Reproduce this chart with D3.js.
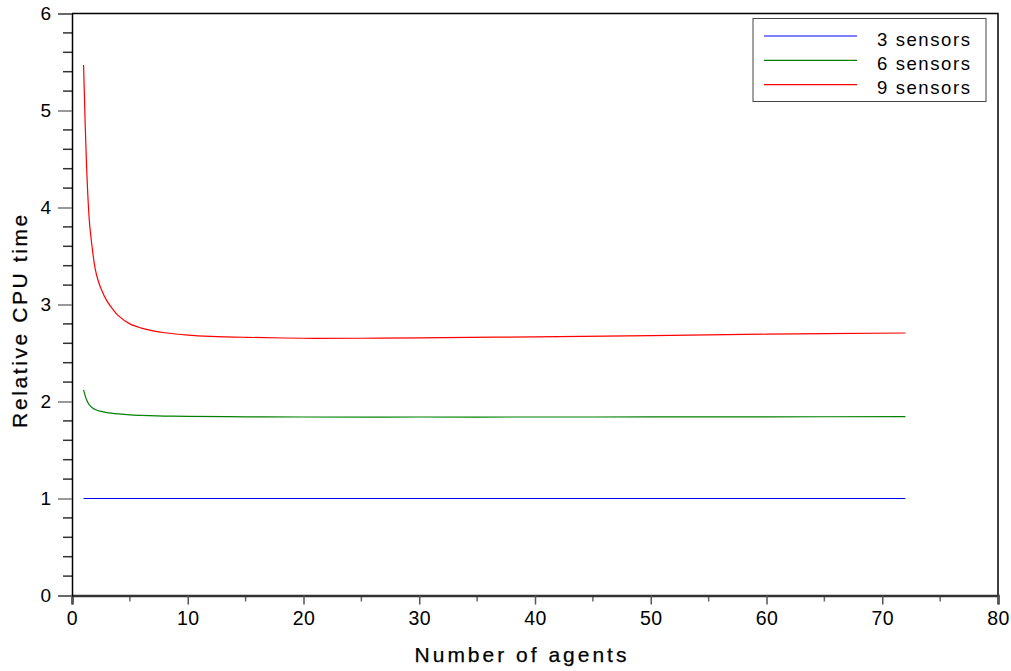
<!DOCTYPE html>
<html>
<head>
<meta charset="utf-8">
<script src="https://cdn.jsdelivr.net/npm/d3@7"></script>
<style>
  body { margin: 0; background: #fff; }
  text { font-family: "Liberation Sans", Arial, sans-serif; fill: #000; }
</style>
</head>
<body>
<div id="chart"></div>
<script>
// values
const agents3 = [1, 72];
const sensors3 = [1, 1];

const agents6 = [1, 1.25, 1.5, 1.75, 2, 2.5, 3, 4, 5, 6, 8, 10, 15, 20, 30, 40, 50, 60, 72];
const sensors6 = [2.12, 2.02, 1.965, 1.935, 1.918, 1.898, 1.886, 1.872, 1.862, 1.857, 1.85, 1.846, 1.842, 1.84, 1.84, 1.84, 1.841, 1.842, 1.844];

const agents9 = [1, 1.25, 1.5, 1.75, 2, 2.25, 2.5, 3, 3.5, 4, 5, 6, 7, 8, 10, 12, 15, 20, 25, 30, 40, 50, 60, 72];
const sensors9 = [5.47, 4.45, 3.86, 3.58, 3.37, 3.25, 3.165, 3.04, 2.955, 2.885, 2.8, 2.757, 2.729, 2.709, 2.685, 2.672, 2.662, 2.652, 2.652, 2.656, 2.667, 2.68, 2.694, 2.706];

const seriesNames = ['3 sensors', '6 sensors', '9 sensors'];
const seriesColors = ['#0000ff', '#008000', '#ff0000'];
const xTicks = [0, 10, 20, 30, 40, 50, 60, 70, 80];
const yTicks = [0, 1, 2, 3, 4, 5, 6];

const series = [
  agents3.map((a, i) => ({x: a, y: sensors3[i]})),
  agents6.map((a, i) => ({x: a, y: sensors6[i]})),
  agents9.map((a, i) => ({x: a, y: sensors9[i]}))
];

const width = 1011, height = 671;
const plotLeft = 72, plotRight = 998, plotTop = 13.5, plotBottom = 595.5;

const svg = d3.select('#chart').append('svg')
  .attr('width', width)
  .attr('height', height);

const x = d3.scaleLinear().domain([0, 80]).range([plotLeft, plotRight]);
const y = d3.scaleLinear().domain([0, 6]).range([plotBottom, plotTop]);

// frame (top + right)
svg.append('path')
  .attr('d', `M${plotLeft},${plotTop}H${plotRight}V${plotBottom}`)
  .attr('fill', 'none')
  .attr('stroke', '#000')
  .attr('stroke-width', 1.5);

// minor ticks
const xMinor = d3.range(5, 80, 10);
svg.append('g').selectAll('line')
  .data(xMinor)
  .enter().append('line')
  .attr('x1', d => x(d)).attr('x2', d => x(d))
  .attr('y1', plotBottom).attr('y2', plotBottom + 6)
  .attr('stroke', '#666').attr('stroke-width', 1.5);

const yMinor = d3.range(0, 6.01, 0.2).filter(v => Math.abs(v - Math.round(v)) > 0.01);
svg.append('g').selectAll('line')
  .data(yMinor)
  .enter().append('line')
  .attr('x1', plotLeft - 9).attr('x2', plotLeft)
  .attr('y1', d => y(d)).attr('y2', d => y(d))
  .attr('stroke', '#333').attr('stroke-width', 1.5);

// axes
const xAxis = d3.axisBottom(x).tickValues(xTicks).tickFormat(d3.format('d')).tickSize(9).tickPadding(7);
const gx = svg.append('g')
  .attr('transform', `translate(0,${plotBottom})`)
  .call(xAxis);
gx.select('.domain').attr('stroke', '#333').attr('stroke-width', 2.5);
gx.selectAll('.tick line').attr('stroke', '#555').attr('stroke-width', 1.5);
gx.selectAll('.tick text')
  .attr('font-size', 19.5)
  .style('letter-spacing', '0.5px')
  .attr('font-family', '"Liberation Sans", Arial, sans-serif');

const yAxis = d3.axisLeft(y).tickValues(yTicks).tickFormat(d3.format('d')).tickSize(14).tickPadding(7);
const gy = svg.append('g')
  .attr('transform', `translate(${plotLeft},0)`)
  .call(yAxis);
gy.select('.domain').attr('stroke', '#000').attr('stroke-width', 1.5);
gy.selectAll('.tick line').attr('stroke', '#777').attr('stroke-width', 1.5);
gy.selectAll('.tick text')
  .attr('font-size', 19)
  .attr('font-family', '"Liberation Sans", Arial, sans-serif');

// axis titles
svg.append('text')
  .attr('x', 522).attr('y', 662)
  .attr('text-anchor', 'middle')
  .attr('font-size', 21)
  .style('letter-spacing', '3px')
  .style('stroke', '#000').style('stroke-width', 0.25)
  .text('Number of agents');

svg.append('text')
  .attr('transform', 'translate(27,320) rotate(-90)')
  .attr('text-anchor', 'middle')
  .attr('font-size', 21)
  .style('letter-spacing', '2.6px')
  .style('stroke', '#000').style('stroke-width', 0.25)
  .text('Relative CPU time');

// lines
const line = d3.line()
  .x(d => x(d.x))
  .y(d => y(d.y))
  .curve(d3.curveCatmullRom.alpha(0.5));

svg.append('g').selectAll('path')
  .data(series)
  .enter().append('path')
  .attr('d', line)
  .attr('fill', 'none')
  .attr('stroke', (d, i) => seriesColors[i])
  .attr('stroke-width', 1.2);

// legend
const legend = svg.append('g');
legend.append('rect')
  .attr('x', 753).attr('y', 18.5)
  .attr('width', 233).attr('height', 83)
  .attr('fill', '#fff')
  .attr('stroke', '#444')
  .attr('stroke-width', 1);

const rows = legend.selectAll('g.row')
  .data(seriesNames)
  .enter().append('g')
  .attr('class', 'row')
  .attr('transform', (d, i) => `translate(0,${36 + i * 24.3})`);

rows.append('line')
  .attr('x1', 764).attr('x2', 857)
  .attr('y1', 0).attr('y2', 0)
  .attr('stroke', (d, i) => seriesColors[i])
  .attr('stroke-width', 1.2);

rows.append('text')
  .attr('x', 877).attr('y', 9.5)
  .attr('font-size', 18.5)
  .style('letter-spacing', '1.6px')
  .text(d => d);
</script>
</body>
</html>
